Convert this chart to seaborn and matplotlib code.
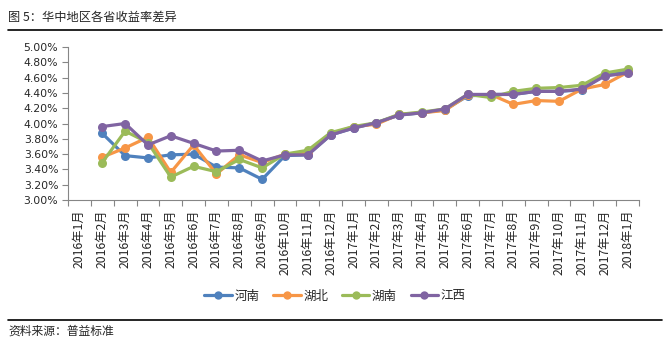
import numpy as np
import pandas as pd
import matplotlib
matplotlib.use("Agg")
import matplotlib.pyplot as plt
import seaborn as sns
from matplotlib.lines import Line2D

months = ["2016年1月", "2016年2月", "2016年3月", "2016年4月", "2016年5月", "2016年6月",
          "2016年7月", "2016年8月", "2016年9月", "2016年10月", "2016年11月", "2016年12月",
          "2017年1月", "2017年2月", "2017年3月", "2017年4月", "2017年5月", "2017年6月",
          "2017年7月", "2017年8月", "2017年9月", "2017年10月", "2017年11月", "2017年12月",
          "2018年1月"]
provinces = ["河南", "湖北", "湖南", "江西"]
henan = [np.nan, 3.87, 3.58, 3.55, 3.59, 3.60, 3.43, 3.42, 3.27, 3.58, 3.59, 3.85,
         3.94, 4.01, 4.11, 4.14, 4.18, 4.36, 4.38, 4.38, 4.42, 4.42, 4.44, 4.64, 4.67]
hubei = [np.nan, 3.56, 3.68, 3.82, 3.36, 3.72, 3.34, 3.59, 3.49, 3.60, 3.62, 3.86,
         3.96, 3.99, 4.12, 4.14, 4.17, 4.37, 4.38, 4.25, 4.30, 4.29, 4.45, 4.51, 4.67]
hunan = [np.nan, 3.49, 3.90, 3.75, 3.30, 3.44, 3.37, 3.53, 3.42, 3.60, 3.65, 3.88,
         3.96, 4.01, 4.12, 4.15, 4.19, 4.38, 4.34, 4.42, 4.46, 4.47, 4.50, 4.66, 4.71]
jiangxi = [np.nan, 3.96, 4.00, 3.72, 3.84, 3.74, 3.64, 3.65, 3.51, 3.59, 3.59, 3.85,
           3.94, 4.01, 4.11, 4.14, 4.19, 4.38, 4.38, 4.38, 4.42, 4.42, 4.45, 4.62, 4.66]
yticks = [3.00, 3.20, 3.40, 3.60, 3.80, 4.00, 4.20, 4.40, 4.60, 4.80, 5.00]
colors = ["#4F81BD", "#F79646", "#9BBB59", "#8064A2"]

series = [henan, hubei, hunan, jiangxi]
rows = []
for p, vals in zip(provinces, series):
    for i, (m, v) in enumerate(zip(months, vals)):
        rows.append({"pos": i, "month": m, "province": p, "value": v})
df = pd.DataFrame(rows).dropna()

sns.set_theme(style="white")
plt.rcParams["font.family"] = ["Noto Sans CJK SC", "DejaVu Sans"]

fig = plt.figure(figsize=(6.7, 3.43), dpi=100)
ax = fig.add_axes([68/670, 1-200/343, (639-68)/670, (200-47)/343])

sns.lineplot(data=df, x="pos", y="value", hue="province", hue_order=provinces,
             palette=colors, marker="o", markersize=6.5, markeredgewidth=0,
             linewidth=2.3, sort=False, legend=False, ax=ax)

ax.set_xlim(-0.5, len(months) - 0.5)
ax.set_ylim(3.0, 5.0)
ax.set_yticks(yticks)
ax.set_yticklabels([f"{v:.2f}%" for v in yticks], fontsize=7.8, family=["DejaVu Sans"])
ax.set_xticks(np.arange(len(months) + 1) - 0.5)
ax.set_xticklabels([])
ax.set_xticks(np.arange(len(months)), minor=True)
ax.set_xticklabels(months, minor=True, rotation=90, fontsize=8.8)
ax.tick_params(axis="x", which="minor", length=0, pad=7)
ax.tick_params(axis="x", which="major", length=4, width=0.8, color="#868686", direction="out", bottom=True)
ax.tick_params(axis="y", length=4, width=0.8, color="#868686", direction="out", left=True, pad=3)
ax.set_xlabel("")
ax.set_ylabel("")
for s in ["top", "right"]:
    ax.spines[s].set_visible(False)
for s in ["left", "bottom"]:
    ax.spines[s].set_color("#868686")
    ax.spines[s].set_linewidth(0.8)

handles = [Line2D([0], [0], color=c, marker="o", markersize=6, linewidth=2.3,
                  markeredgewidth=0) for c in colors]
fig.legend(handles, provinces, loc="center", bbox_to_anchor=(335/670, 1-296/343),
           ncol=4, frameon=False, fontsize=9, handlelength=2.2, columnspacing=1.1,
           handletextpad=0.2)

fig.text(8/670, 1-17/343, "图 5：华中地区各省收益率差异", fontsize=8.8, va="center", ha="left")
fig.add_artist(Line2D([8/670, 662/670], [1-30/343, 1-30/343], color="black", linewidth=1.2))
fig.add_artist(Line2D([8/670, 662/670], [1-320/343, 1-320/343], color="black", linewidth=1.2))
fig.text(8/670, 1-331/343, "资料来源：普益标准", fontsize=8.5, va="center", ha="left")

fig.savefig("out.png", dpi=100)
